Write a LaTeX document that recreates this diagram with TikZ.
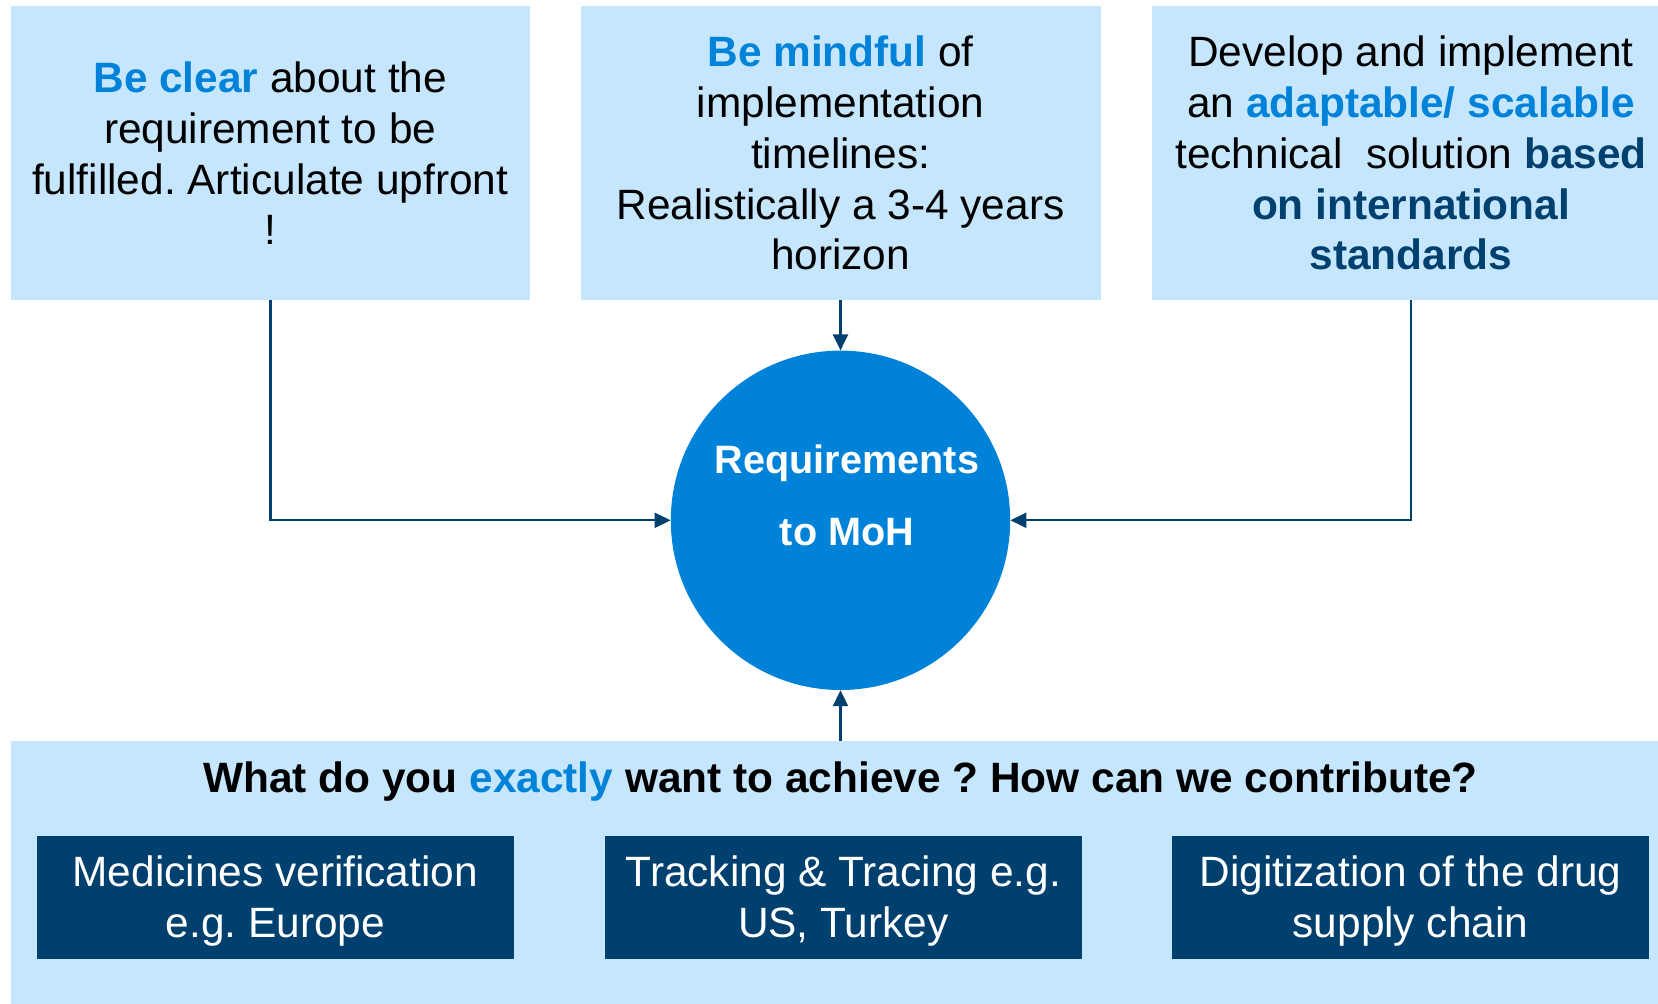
\documentclass[tikz,border=0pt]{standalone}
\usepackage{fontspec}
\setmainfont{Liberation Sans}
\usetikzlibrary{arrows.meta}
\definecolor{lightbox}{RGB}{197,230,252}
\definecolor{circblue}{RGB}{0,130,217}
\definecolor{navy}{RGB}{0,64,110}
\definecolor{hlblue}{RGB}{0,130,217}
\frenchspacing
\tikzset{
  topbox/.style={rectangle, fill=lightbox, draw=none, inner sep=0pt,
    minimum width=519.2bp, minimum height=293.3bp, anchor=north west},
  boxtext/.style={align=center, inner sep=0pt, text=black,
    font=\fontsize{42.4bp}{50.8bp}\selectfont},
  darkbox/.style={rectangle, fill=navy, draw=none, inner sep=0pt,
    minimum width=476.8bp, minimum height=122.7bp},
  darktext/.style={align=center, inner sep=0pt, text=white,
    font=\fontsize{42.4bp}{50.6bp}\selectfont},
  mohtext/.style={inner sep=0pt, text=white, anchor=base,
    font=\fontsize{39.6bp}{45bp}\selectfont\bfseries},
  conn/.style={draw=navy, line width=2.2bp, -{Triangle[length=16bp,width=15bp]}},
}
\begin{document}
\begin{tikzpicture}[x=1bp, y=-1bp]
\useasboundingbox (0,0) rectangle (1658,1003);
\clip (0,0) rectangle (1658,1003);
\fill[white] (0,0) rectangle (1658,1003);

% top boxes
\node[topbox] (boxL) at (10.6,6) {};
\node[topbox] (boxM) at (581.2,6) {};
\node[topbox] (boxR) at (1151.5,6) {};

\node[boxtext] (txtL) at (270.2,158.5)
  {\strut\textcolor{hlblue}{\bfseries Be clear} about the\\
   requirement to be\\
   fulfilled. Articulate upfront\\
   !\strut};
\node[boxtext] (txtM) at (840.6,158.2)
  {\strut\textcolor{hlblue}{\bfseries Be mindful} of\\
   implementation\\
   timelines:\\
   Realistically a 3-4 years\\
   horizon\strut};
\node[boxtext] (txtR) at (1411,158.2)
  {\strut Develop and implement\\
   an \textcolor{hlblue}{\bfseries adaptable/ scalable}\\
   technical\ \ solution \textcolor{navy}{\bfseries based}\\
   \textcolor{navy}{\bfseries on international}\\
   \textcolor{navy}{\bfseries standards}\strut};

% central circle
\node[circle, fill=circblue, draw=none, inner sep=0pt, minimum size=339.4bp] (moh) at (840.5,520.3) {};
\node[mohtext] (moh1) at (847,473.3) {Requirements};
\node[mohtext] (moh2) at (847,545.7) {to MoH};

% bottom panel
\node[rectangle, fill=lightbox, draw=none, inner sep=0pt, anchor=north west,
      minimum width=1660bp, minimum height=280bp] (panel) at (10.6,741) {};
\node[inner sep=0pt, anchor=base, font=\fontsize{42.4bp}{50bp}\selectfont\bfseries] (head) at (840.6,792.7)
  {What do you \textcolor{hlblue}{exactly} want to achieve ? How can we contribute?};

\node[darkbox] (d1) at (275.3,897.35) {};
\node[darkbox] (d2) at (843.25,897.35) {};
\node[darkbox] (d3) at (1410.5,897.35) {};
\node[darktext] (dt1) at (275.3,901.9) {\strut Medicines verification\\ e.g. Europe\strut};
\node[darktext] (dt2) at (843.25,901.9) {\strut Tracking \& Tracing e.g.\\ US, Turkey\strut};
\node[darktext] (dt3) at (1410.5,901.9) {\strut Digitization of the drug\\ supply chain\strut};

% connectors
\draw[conn] (boxL.south) |- (moh.west);
\draw[conn] (boxM.south -| moh.north) -- (moh.north);
\draw[conn] (boxR.south) |- (moh.east);
\coordinate (pin) at (moh.south |- panel.north);
\draw[conn] (pin) -- (moh.south);
\end{tikzpicture}
\end{document}
